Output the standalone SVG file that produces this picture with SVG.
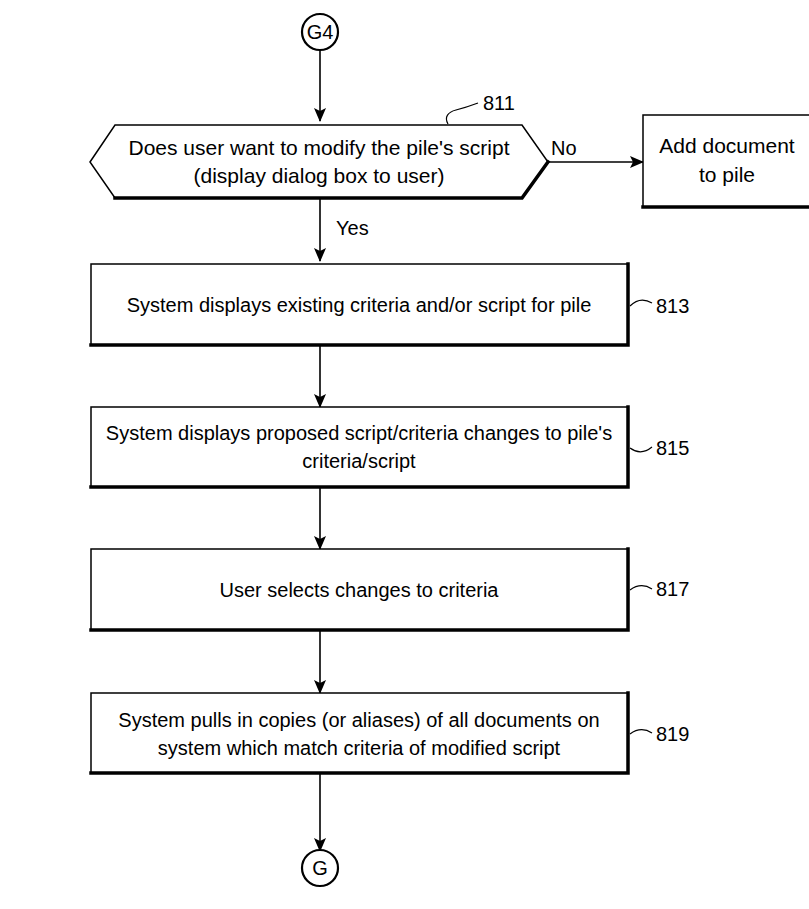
<svg xmlns="http://www.w3.org/2000/svg" width="809" height="909" viewBox="0 0 809 909">
<style>
.t{font-family:"Liberation Sans",Arial,sans-serif;font-size:20px;fill:#000;text-anchor:middle}
.tb{font-size:21px}
.lbl{font-family:"Liberation Sans",Arial,sans-serif;font-size:20px;fill:#000}
.thin{fill:#fff;stroke:#000;stroke-width:1.5}
.thick{fill:none;stroke:#000;stroke-width:3.5;stroke-linecap:square}
.ln{fill:none;stroke:#000;stroke-width:1.6}
.lead{fill:none;stroke:#000;stroke-width:1.2}
</style>
<defs>
<marker id="ah" markerWidth="14" markerHeight="12" refX="13" refY="6" orient="auto" markerUnits="userSpaceOnUse">
<path d="M0,0 L14,6 L0,12 L3,6 z" fill="#000"/>
</marker>
</defs>
<rect width="809" height="909" fill="#fff"/>

<g id="connectors">
<line class="ln" x1="320" y1="51" x2="320" y2="121" marker-end="url(#ah)"/>
<line class="ln" x1="548" y1="162" x2="643" y2="162" marker-end="url(#ah)"/>
<line class="ln" x1="320" y1="198" x2="320" y2="261" marker-end="url(#ah)"/>
<line class="ln" x1="320" y1="345" x2="320" y2="407" marker-end="url(#ah)"/>
<line class="ln" x1="320" y1="487" x2="320" y2="549" marker-end="url(#ah)"/>
<line class="ln" x1="320" y1="630" x2="320" y2="693" marker-end="url(#ah)"/>
<line class="ln" x1="320" y1="773" x2="320" y2="851" marker-end="url(#ah)"/>
<text class="lbl" x="551" y="155">No</text>
<text class="lbl" x="336" y="235">Yes</text>
</g>

<g id="G4">
<circle cx="320" cy="32" r="18" fill="#fff" stroke="#000" stroke-width="2.2"/>
<text class="t" x="320" y="39">G4</text>
</g>

<g id="n811">
<path class="thin" d="M90,162 L115,125 L522,125 L548,162 L522,198 L115,198 Z"/>
<path class="thick" d="M115,198 L522,198 L548,162"/>
<text class="t tb" x="319" y="155">Does user want to modify the pile's script</text>
<text class="t tb" x="319" y="183">(display dialog box to user)</text>
<path class="lead" d="M448,124 C444,117 448,112 456,110 C464,108 470,106 478,103"/>
<text class="lbl" x="483" y="110">811</text>
</g>

<g id="addDoc">
<rect class="thin" x="643" y="115" width="168" height="92"/>
<path class="thick" d="M643,207 L811,207"/>
<text class="t tb" x="727" y="153">Add document</text>
<text class="t tb" x="727" y="182">to pile</text>
</g>

<g id="n813">
<rect class="thin" x="91" y="264" width="537" height="81"/>
<path class="thick" d="M91,345 L628,345 L628,264"/>
<text class="t" x="359" y="312">System displays existing criteria and/or script for pile</text>
<path class="lead" d="M630,306 Q640,296 652,303"/>
<text class="lbl" x="656" y="313">813</text>
</g>

<g id="n815">
<rect class="thin" x="91" y="407" width="537" height="80"/>
<path class="thick" d="M91,487 L628,487 L628,407"/>
<text class="t" x="359" y="440">System displays proposed script/criteria changes to pile's</text>
<text class="t" x="359" y="468">criteria/script</text>
<path class="lead" d="M630,448 Q641,456 652,447"/>
<text class="lbl" x="656" y="455">815</text>
</g>

<g id="n817">
<rect class="thin" x="91" y="549" width="537" height="81"/>
<path class="thick" d="M91,630 L628,630 L628,549"/>
<text class="t" x="359" y="597">User selects changes to criteria</text>
<path class="lead" d="M630,590 Q641,582 652,589"/>
<text class="lbl" x="656" y="596">817</text>
</g>

<g id="n819">
<rect class="thin" x="91" y="693" width="537" height="80"/>
<path class="thick" d="M91,773 L628,773 L628,693"/>
<text class="t" x="359" y="727">System pulls in copies (or aliases) of all documents on</text>
<text class="t" x="359" y="755">system which match criteria of modified script</text>
<path class="lead" d="M630,734 Q641,726 652,733"/>
<text class="lbl" x="656" y="741">819</text>
</g>

<g id="G">
<circle cx="320" cy="868" r="18" fill="#fff" stroke="#000" stroke-width="2.2"/>
<text class="t" x="320" y="875">G</text>
</g>
</svg>
